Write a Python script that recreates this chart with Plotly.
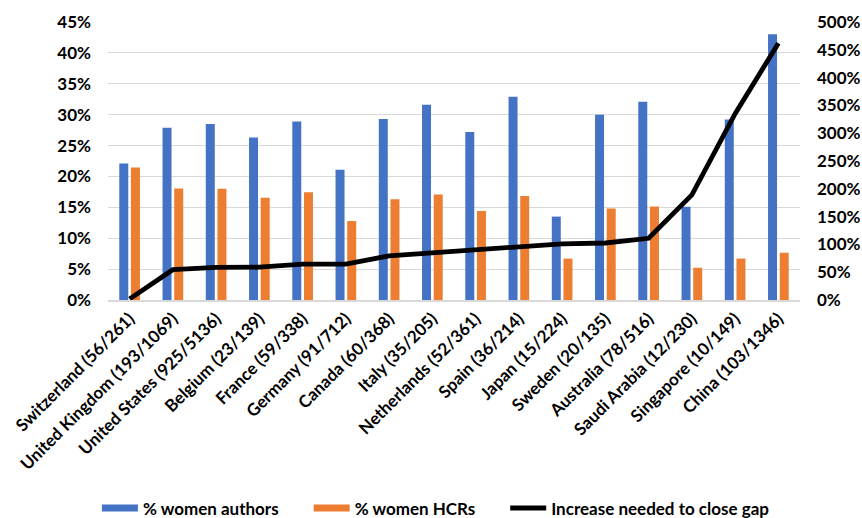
import plotly.graph_objects as go

countries = [
    "Switzerland (56/261)", "United Kingdom (193/1069)", "United States (925/5136)",
    "Belgium (23/139)", "France (59/338)", "Germany (91/712)", "Canada (60/368)",
    "Italy (35/205)", "Netherlands (52/361)", "Spain (36/214)", "Japan (15/224)",
    "Sweden (20/135)", "Australia (78/516)", "Saudi Arabia (12/230)",
    "Singapore (10/149)", "China (103/1346)",
]
women_authors = [0.221, 0.279, 0.285, 0.263, 0.289, 0.211, 0.293, 0.316,
                 0.272, 0.329, 0.135, 0.300, 0.321, 0.151, 0.292, 0.430]
women_hcrs = [0.2146, 0.1805, 0.1801, 0.1655, 0.1746, 0.1278, 0.1630, 0.1707,
              0.1440, 0.1682, 0.0670, 0.1481, 0.1512, 0.0522, 0.0671, 0.0765]
increase_needed = [0.02, 0.545, 0.585, 0.59, 0.645, 0.645, 0.795, 0.85,
                   0.885, 0.955, 1.01, 1.025, 1.11, 1.89, 3.35, 4.62]

left_ticks = [i * 0.05 for i in range(10)]
right_ticks = [i * 0.5 for i in range(11)]

BLUE = "#4472C4"
ORANGE = "#ED7D31"
GRID = "#D9D9D9"
FONT = dict(family="Lato, Open Sans, sans-serif", size=15, color="#000000", weight="bold")

fig = go.Figure()
fig.add_trace(go.Bar(x=countries, y=women_authors, name="% women authors",
                     showlegend=False, marker=dict(color=BLUE, line=dict(width=0))))
fig.add_trace(go.Bar(x=countries, y=women_hcrs, name="% women HCRs",
                     showlegend=False, marker=dict(color=ORANGE, line=dict(width=0))))
fig.add_trace(go.Scatter(x=countries, y=increase_needed, name="Increase needed to close gap",
                         mode="lines", yaxis="y2", showlegend=False,
                         line=dict(color="#000000", width=4.8)))

# legend keys: wide flat swatches, each in its own legend box along the bottom
legend_keys = [("% women authors", BLUE, 7, "legend", -0.016),
               ("% women HCRs", ORANGE, 7, "legend2", 0.290),
               ("Increase needed to close gap", "#000000", 5, "legend3", 0.574)]
legend_layout = {}
for name, color, width, legend_id, xpos in legend_keys:
    fig.add_trace(go.Scatter(x=[None], y=[None], mode="lines", name=name,
                             legend=legend_id, showlegend=True,
                             line=dict(color=color, width=width)))
    legend_layout[legend_id] = dict(orientation="h", x=xpos, xanchor="left",
                                    y=-0.75, yanchor="middle", font=dict(size=17),
                                    itemwidth=36, bgcolor="rgba(0,0,0,0)")

fig.update_layout(
    width=862, height=518,
    margin=dict(l=108, r=62, t=22, b=218, autoexpand=False),
    paper_bgcolor="white", plot_bgcolor="white",
    font=FONT,
    barmode="group", bargap=0.46, bargroupgap=0.23,
    showlegend=True,
    xaxis=dict(tickangle=-45, showgrid=False, showline=True, linecolor=GRID, linewidth=2,
               ticks="", tickfont=dict(size=17), automargin=False),
    yaxis=dict(range=[0, 0.45], tickvals=left_ticks, tickformat=".0%",
               showgrid=True, gridcolor=GRID, gridwidth=1, zeroline=False,
               ticklabelstandoff=16, tickfont=dict(size=17), automargin=False),
    yaxis2=dict(range=[0, 5.0], tickvals=right_ticks, tickformat=".0%",
                overlaying="y", side="right", showgrid=False, zeroline=False,
                ticklabelstandoff=16, tickfont=dict(size=17), automargin=False),
    **legend_layout,
)

fig.write_html("out.html")
